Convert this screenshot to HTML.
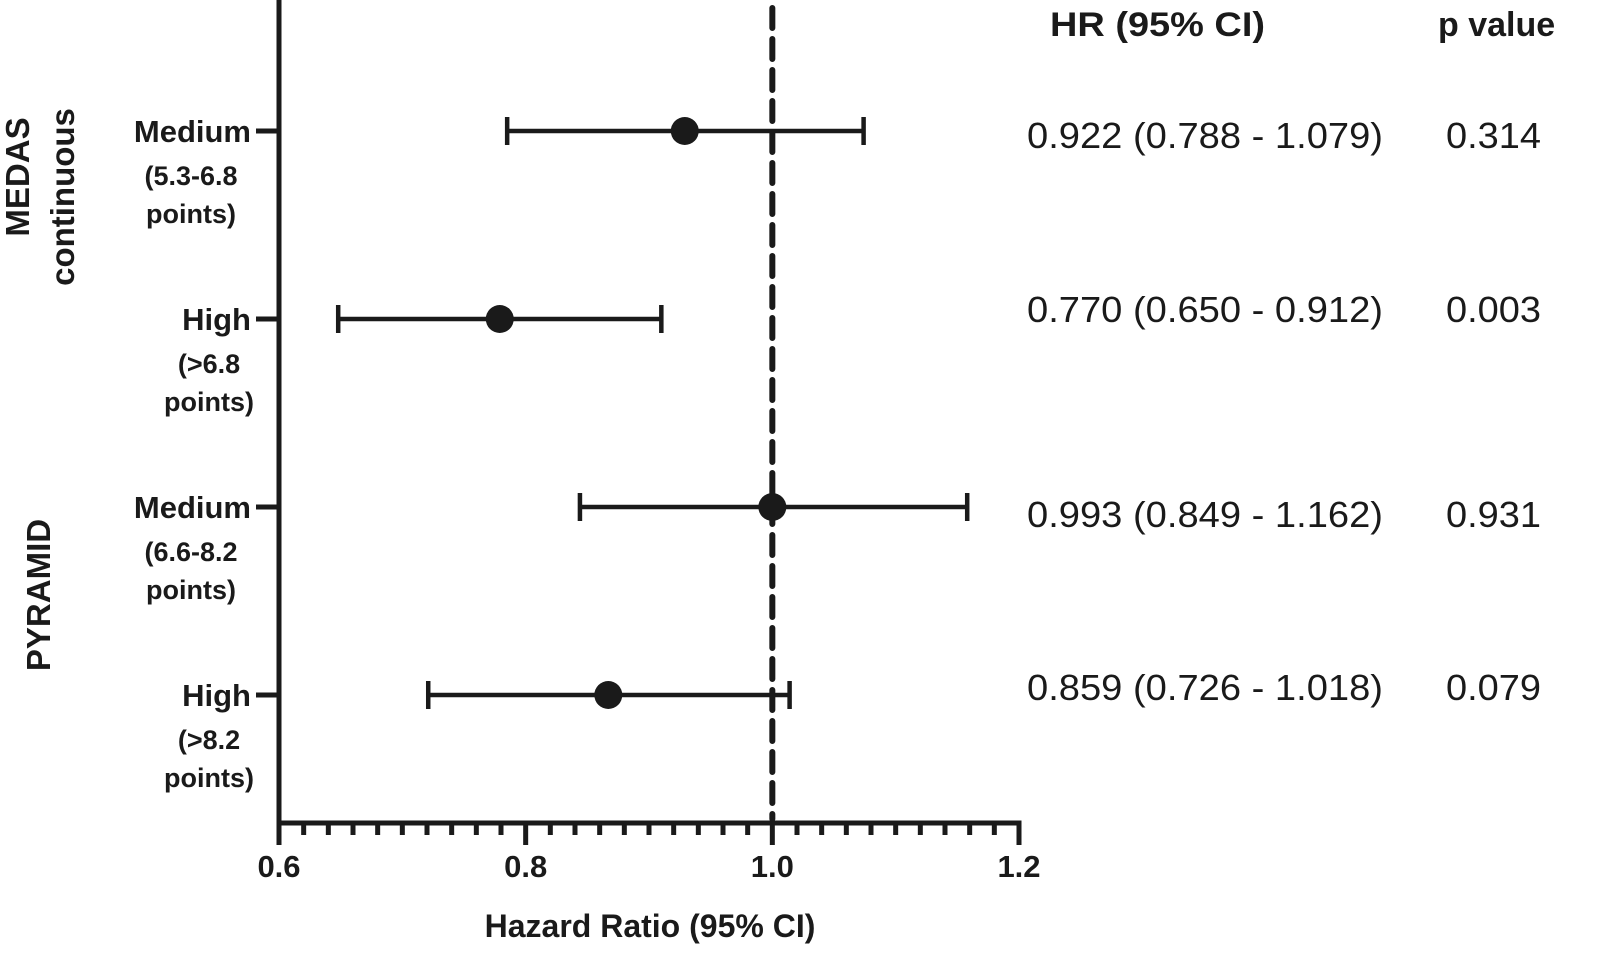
<!DOCTYPE html>
<html><head><meta charset="utf-8"><style>
html,body{margin:0;padding:0;background:#fff;}
svg{display:block;font-family:"Liberation Sans",Arial,sans-serif;}
</style></head><body>
<svg id="chart" width="1600" height="964" viewBox="0 0 1600 964"></svg>
<script>
const categories = ["Medium", "High", "Medium", "High"];
const subLabels1 = ["(5.3-6.8", "(>6.8", "(6.6-8.2", "(>8.2"];
const hrValues = [0.929, 0.779, 1.0, 0.867];
const ciLower = [0.785, 0.648, 0.844, 0.721];
const ciUpper = [1.074, 0.910, 1.158, 1.014];
const hrText = ["0.922 (0.788 - 1.079)", "0.770 (0.650 - 0.912)", "0.993 (0.849 - 1.162)", "0.859 (0.726 - 1.018)"];
const pText = ["0.314", "0.003", "0.931", "0.079"];
const xTicks = [0.6, 0.8, 1.0, 1.2];
const xTickLabels = ["0.6", "0.8", "1.0", "1.2"];

const NS = "http://www.w3.org/2000/svg";
const svg = document.getElementById("chart");
const x0 = 279, x1 = 1019, vMin = 0.6, vMax = 1.2, axisY = 823;
const xs = v => x0 + (v - vMin) / (vMax - vMin) * (x1 - x0);
const rowY = i => 131 + i * 188;
function mk(tag, attrs, parent) {
  const e = document.createElementNS(NS, tag);
  for (const k in attrs) e.setAttribute(k, attrs[k]);
  (parent || svg).appendChild(e);
  return e;
}

// axes
const yAxis = mk("line", {x1: x0, y1: 0, x2: x0, y2: axisY + 2, stroke: "#1a1a1a", "stroke-width": 5});


const xAxis = mk("line", {x1: x0 - 2.5, y1: axisY, x2: x1 + 2.5, y2: axisY, stroke: "#1a1a1a", "stroke-width": 5});



// minor ticks
for (let k = 0; k <= 30; k++) {
  const v = vMin + k * 0.02;
  const major = k % 10 === 0;
  const t = mk("line", {x1: xs(v), y1: axisY, x2: xs(v), y2: axisY + (major ? 22 : 12), stroke: "#1a1a1a", "stroke-width": 5});
  
  
}
xTicks.forEach((v, i) => {
  const t = mk("text", {x: xs(v), y: 877, "text-anchor": "middle", "font-size": 31, "font-weight": "bold", fill: "#1a1a1a"});
  t.textContent = xTickLabels[i];
  
  
});
const xt = mk("text", {x: 650, y: 937, "text-anchor": "middle", "font-size": 32, "font-weight": "bold", fill: "#1a1a1a"});
xt.textContent = "Hazard Ratio (95% CI)";



// reference line
const ref = mk("line", {x1: xs(1.0), y1: 8, x2: xs(1.0), y2: axisY - 4, stroke: "#1a1a1a", "stroke-width": 6, "stroke-dasharray": "20 11", "stroke-linecap": "round"});



// rows
categories.forEach((c, i) => {
  const y = rowY(i);
  const tk = mk("line", {x1: 256, y1: y, x2: x0, y2: y, stroke: "#1a1a1a", "stroke-width": 5});
  
  
  const lab = mk("text", {x: 251, y: y + 11, "text-anchor": "end", "font-size": 31, "font-weight": "bold", fill: "#1a1a1a"});
  lab.textContent = c;
  
  
  const cx = c === "High" ? 209 : 191;
  const s1 = mk("text", {x: cx, y: y + 54, "text-anchor": "middle", "font-size": 27, "font-weight": "bold", fill: "#1a1a1a"});
  s1.textContent = subLabels1[i];
  
  
  const s2 = mk("text", {x: cx, y: y + 92, "text-anchor": "middle", "font-size": 27, "font-weight": "bold", fill: "#1a1a1a"});
  s2.textContent = "points)";
  
  

  const g = mk("g", {});
  
  
  const ci = mk("line", {x1: xs(ciLower[i]), y1: y, x2: xs(ciUpper[i]), y2: y, stroke: "#1a1a1a", "stroke-width": 4.5}, g);
  
  
  [ciLower[i], ciUpper[i]].forEach(v => {
    const cap = mk("line", {x1: xs(v), y1: y - 14, x2: xs(v), y2: y + 14, stroke: "#1a1a1a", "stroke-width": 4.5}, g);
    
    
  });
  const pt = mk("circle", {cx: xs(hrValues[i]), cy: y, r: 14, fill: "#1a1a1a"}, g);
  
  

  const ty = [148, 322, 527, 700][i];
  const ht = mk("text", {x: 1027, y: ty, "font-size": 36, fill: "#1a1a1a", textLength: 356, lengthAdjust: "spacingAndGlyphs"});
  ht.textContent = hrText[i];
  
  
  const pv = mk("text", {x: 1446, y: ty, "font-size": 36, fill: "#1a1a1a", textLength: 95, lengthAdjust: "spacingAndGlyphs"});
  pv.textContent = pText[i];
  
  
});

// headers
const h1 = mk("text", {x: 1050, y: 36, "font-size": 34, "font-weight": "bold", fill: "#1a1a1a", textLength: 215, lengthAdjust: "spacingAndGlyphs"});
h1.textContent = "HR (95% CI)";


const h2 = mk("text", {x: 1438, y: 36, "font-size": 34, "font-weight": "bold", fill: "#1a1a1a"});
h2.textContent = "p value";



// group labels
const gl = [["MEDAS", 29, 177], ["continuous", 74, 197], ["PYRAMID", 50, 595]];
gl.forEach(([t, x, y]) => {
  const e = mk("text", {x: x, y: y, transform: `rotate(-90 ${x} ${y})`, "text-anchor": "middle", "font-size": 33, "font-weight": "bold", fill: "#1a1a1a"});
  e.textContent = t;
  
  
});
</script>
</body></html>
